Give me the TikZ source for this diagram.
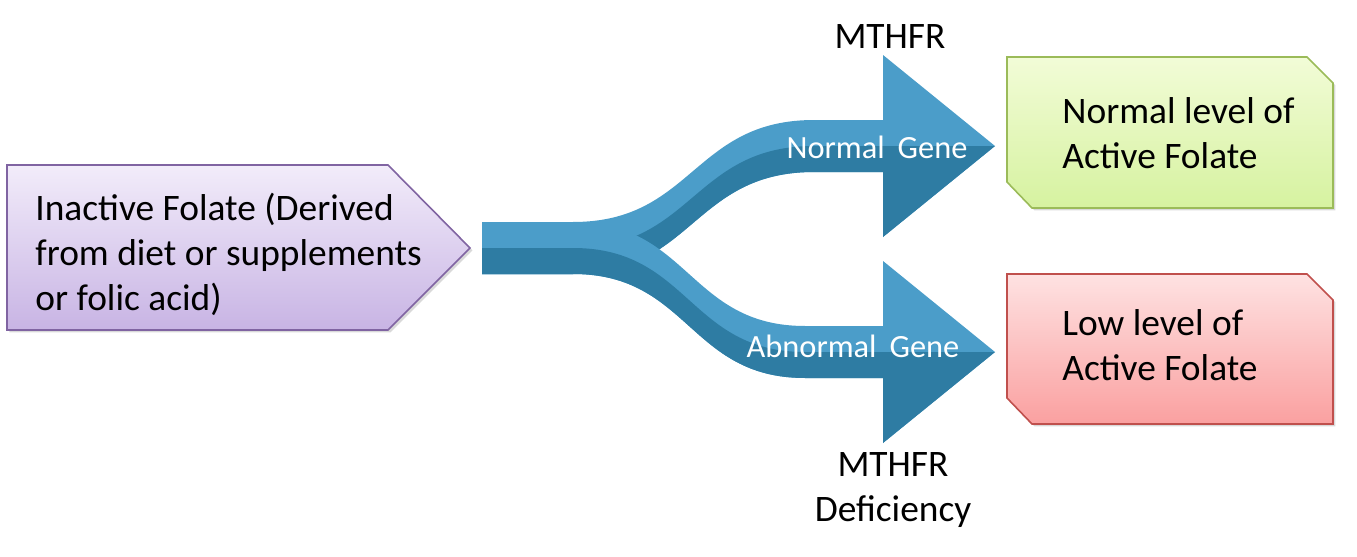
\documentclass[tikz,border=0pt]{standalone}
\usepackage{fontspec}
\setmainfont{Carlito}
\usetikzlibrary{shadows}
\definecolor{arrowlight}{RGB}{75,157,201}
\definecolor{arrowdark}{RGB}{46,124,163}
\definecolor{lilacTop}{RGB}{242,236,250}
\definecolor{lilacBot}{RGB}{200,180,228}
\definecolor{lilacLine}{RGB}{128,100,162}
\definecolor{greenTop}{RGB}{242,252,215}
\definecolor{greenBot}{RGB}{214,242,160}
\definecolor{greenLine}{RGB}{155,187,89}
\definecolor{redTop}{RGB}{254,226,226}
\definecolor{redBot}{RGB}{250,160,160}
\definecolor{redLine}{RGB}{192,80,77}

\begin{document}
\begin{tikzpicture}[x=0.5pt,y=-0.5pt,
  big/.style={font=\fontsize{18.7}{22.5}\selectfont,align=left,inner sep=0pt},
  gene/.style={font=\fontsize{16.2}{18}\selectfont,text=white,inner sep=0pt},
  box/.style={line width=0.8pt,drop shadow={opacity=0.3,shadow xshift=1.2pt,shadow yshift=-1.2pt}},
  light/.style={fill=arrowlight},
  dark/.style={fill=arrowdark}
]
\useasboundingbox (0,0) rectangle (1357,557);

% source box and the two result boxes
\path[box,draw=lilacLine,top color=lilacTop,bottom color=lilacBot]
  (7,165) -- (388,165) -- (470,248) -- (388,330) -- (7,330) -- cycle;
\path[box,draw=greenLine,top color=greenTop,bottom color=greenBot]
  (1007,57) -- (1307,57) -- (1333,83) -- (1333,208) -- (1032,208) -- (1007,182) -- cycle;
\path[box,draw=redLine,top color=redTop,bottom color=redBot]
  (1007,274) -- (1307,274) -- (1333,300) -- (1333,424) -- (1032,424) -- (1007,398) -- cycle;

% split arrow: upper branch first, lower branch on top
\coordinate (stem) at (482,248);
\coordinate (tipN) at (995,146);
\coordinate (tipA) at (995,352);
\fill[light] (482,222) -- (573,222) .. controls (693,222) and (693,120) .. (814,120)
  -- (883,120) -- (883,55) -- (tipN) -- (883,237) -- (883,172) -- (814,172)
  .. controls (693,172) and (693,274) .. (573,274) -- (482,274) -- cycle;
\fill[dark] (stem) -- (573,248) .. controls (693,248) and (693,146) .. (814,146)
  -- (tipN) -- (883,237) -- (883,172) -- (814,172)
  .. controls (693,172) and (693,274) .. (573,274) -- (482,274) -- cycle;
\fill[light] (482,222) -- (573,222) .. controls (689,222) and (689,326) .. (805,326)
  -- (883,326) -- (883,261) -- (tipA) -- (883,443) -- (883,378) -- (805,378)
  .. controls (689,378) and (689,274) .. (573,274) -- (482,274) -- cycle;
\fill[dark] (stem) -- (573,248) .. controls (689,248) and (689,352) .. (805,352)
  -- (tipA) -- (883,443) -- (883,378) -- (805,378)
  .. controls (689,378) and (689,274) .. (573,274) -- (482,274) -- cycle;

% texts
\node[big,anchor=west] (inactive) at (35,254) {Inactive Folate (Derived\\from diet or supplements\\or folic acid)};
\node[big,anchor=west] (normal) at (1062,133) {Normal level of\\Active Folate};
\node[big,anchor=west] (low) at (1062,345) {Low level of\\Active Folate};
\node[gene] (ngene) at (877,147) {Normal\hspace{0.4em}Gene};
\node[gene] (agene) at (853,346) {Abnormal\hspace{0.4em}Gene};
\node[big] (mthfr) at (890,37) {MTHFR};
\node[big,align=center] (defic) at (893,490) {MTHFR\\Deficiency};
\end{tikzpicture}
\end{document}
